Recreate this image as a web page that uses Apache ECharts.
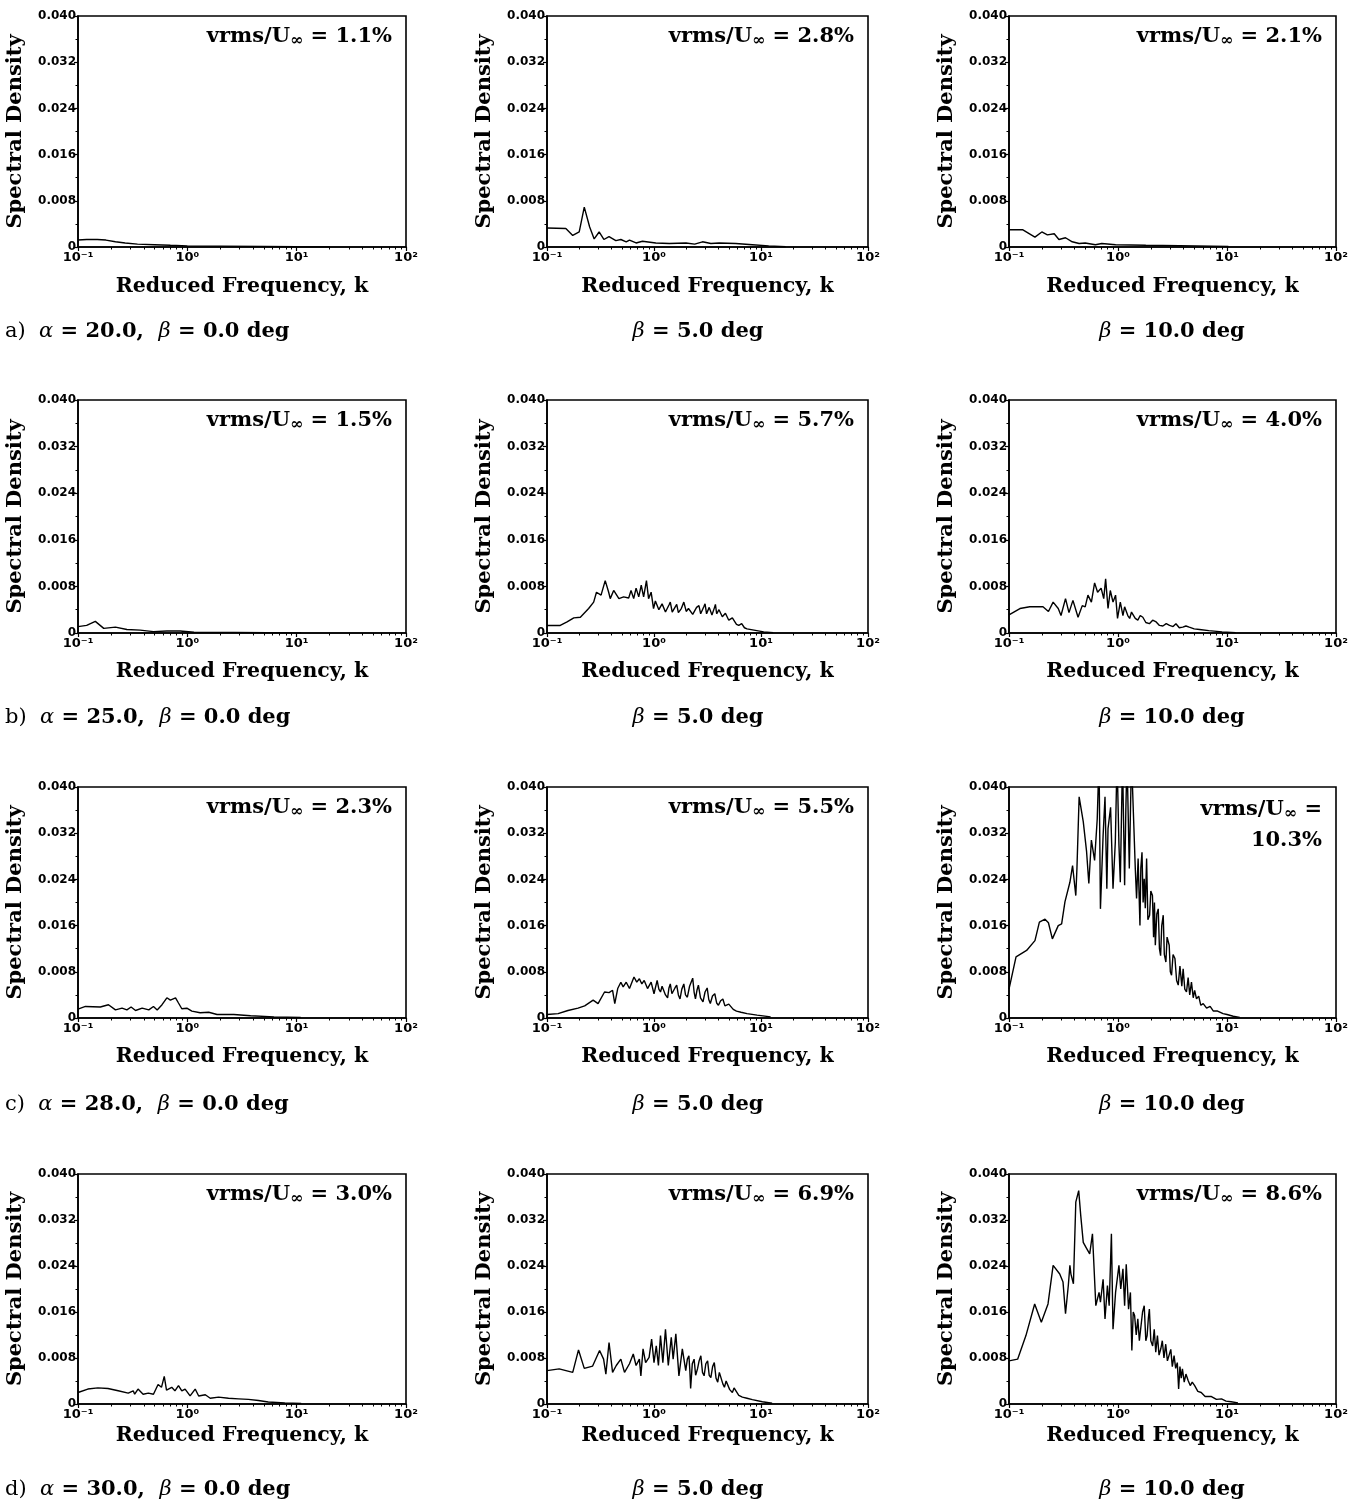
<!DOCTYPE html>
<html><head><meta charset="utf-8">
<script src="https://cdn.jsdelivr.net/npm/echarts@6/dist/echarts.min.js"></script>
<style>html,body{margin:0;padding:0;background:#fff}#c{width:1359px;height:1505px}</style>
</head><body><div id="c"></div><script>
// ---- tick labels ----
const xMajorTicks = [0.1, 1, 10, 100];
const xTickLabels = ['10⁻¹', '10⁰', '10¹', '10²'];
const xMinorTicks = [0.2,0.3,0.4,0.5,0.6,0.7,0.8,0.9,2,3,4,5,6,7,8,9,20,30,40,50,60,70,80,90];
const yTickLabels = ['0', '0.008', '0.016', '0.024', '0.032', '0.040'];

// ---- series: [k, spectral density] ----
const a20b0 = [[0.1,0.0012],[0.12,0.0013],[0.15,0.0013],[0.18,0.0012],[0.22,0.0009],[0.27,0.0007],[0.35,0.0005],[0.5,0.0004],[0.7,0.0003],[1,0.0002],[2,0.00015],[5,0.0001],[10,0.00005],[20,0.00002]];
const a20b5 = [[0.1,0.0033],[0.15,0.0032],[0.174,0.002],[0.2,0.0026],[0.223,0.0069],[0.25,0.0035],[0.276,0.0014],[0.307,0.0026],[0.34,0.0013],[0.38,0.0018],[0.44,0.0011],[0.49,0.0013],[0.55,0.0009],[0.59,0.0012],[0.68,0.0007],[0.78,0.001],[1.04,0.0007],[1.39,0.0006],[1.99,0.0007],[2.4,0.0005],[2.84,0.0009],[3.4,0.0006],[4.06,0.0007],[5.8,0.0006],[8.3,0.0004],[11.8,0.0002],[17,0.00005]];
const a20b10 = [[0.1,0.003],[0.133,0.003],[0.173,0.0017],[0.2,0.0026],[0.225,0.0021],[0.26,0.0023],[0.287,0.0013],[0.33,0.0016],[0.38,0.0009],[0.44,0.0006],[0.5,0.0007],[0.62,0.0004],[0.71,0.0006],[0.95,0.0004],[1.8,0.0003],[5.2,0.0002],[10.3,0.0001]];
const a25b0 = [[0.1,0.0011],[0.12,0.0013],[0.144,0.002],[0.172,0.0008],[0.22,0.001],[0.28,0.0006],[0.37,0.0005],[0.49,0.00023],[0.65,0.00035],[0.86,0.00035],[1.15,0.00012],[2.67,0.0001],[5.4,0.00006],[11,0.00002]];
const a25b5 = [[0.1,0.0013],[0.133,0.0013],[0.154,0.0019],[0.178,0.0026],[0.205,0.0027],[0.245,0.0042],[0.273,0.0053],[0.29,0.007],[0.32,0.0065],[0.35,0.009],[0.377,0.007],[0.39,0.0059],[0.42,0.0073],[0.47,0.0059],[0.52,0.0062],[0.58,0.006],[0.61,0.0073],[0.646,0.0059],[0.68,0.0077],[0.72,0.0062],[0.76,0.0082],[0.8,0.0062],[0.85,0.009],[0.89,0.0059],[0.94,0.007],[0.99,0.0042],[1.03,0.0055],[1.07,0.0053],[1.11,0.004],[1.15,0.0037],[1.19,0.005],[1.23,0.0047],[1.28,0.0036],[1.33,0.0035],[1.38,0.0048],[1.42,0.0053],[1.48,0.0036],[1.53,0.0039],[1.58,0.0045],[1.63,0.0049],[1.69,0.0035],[1.8,0.0042],[1.9,0.0053],[2.0,0.0037],[2.1,0.0042],[2.18,0.0045],[2.3,0.0032],[2.4,0.003],[2.5,0.0044],[2.63,0.0047],[2.73,0.0033],[2.84,0.0031],[2.92,0.0045],[3.0,0.005],[3.1,0.0033],[3.2,0.003],[3.28,0.0044],[3.35,0.0047],[3.48,0.0031],[3.6,0.0029],[3.68,0.0044],[3.75,0.0049],[3.85,0.0033],[3.95,0.003],[4.05,0.004],[4.2,0.0042],[4.35,0.0028],[4.5,0.0025],[4.65,0.0034],[4.84,0.0036],[5.0,0.0022],[5.2,0.0019],[5.4,0.0026],[5.6,0.0027],[5.9,0.0015],[6.2,0.0013],[6.6,0.0016],[7.0,0.0009],[7.4,0.0007],[8.6,0.0005],[10.6,0.0002],[13,0.00006]];
const a25b10 = [[0.1,0.0031],[0.126,0.0042],[0.155,0.0045],[0.205,0.0045],[0.23,0.0037],[0.254,0.0053],[0.283,0.0042],[0.3,0.003],[0.33,0.0059],[0.355,0.0035],[0.386,0.0056],[0.43,0.0027],[0.47,0.0047],[0.5,0.0045],[0.53,0.0065],[0.57,0.0053],[0.61,0.0086],[0.65,0.007],[0.7,0.0077],[0.74,0.0059],[0.77,0.0093],[0.81,0.0042],[0.85,0.0073],[0.9,0.0053],[0.95,0.0065],[0.99,0.0025],[1.05,0.0053],[1.11,0.003],[1.15,0.0045],[1.19,0.0042],[1.23,0.003],[1.28,0.0025],[1.33,0.0036],[1.37,0.0039],[1.44,0.0025],[1.52,0.0022],[1.6,0.003],[1.69,0.0027],[1.8,0.0018],[1.94,0.0016],[2.08,0.0022],[2.24,0.0019],[2.4,0.0013],[2.58,0.0012],[2.77,0.0016],[2.97,0.0013],[3.2,0.0011],[3.4,0.0016],[3.65,0.0009],[3.93,0.001],[4.2,0.0012],[4.5,0.001],[5.0,0.0007],[5.6,0.0006],[6.8,0.0004],[9.0,0.0002],[12,0.00006]];
const a28b0 = [[0.1,0.00155],[0.117,0.002],[0.16,0.0019],[0.19,0.0023],[0.22,0.0014],[0.253,0.0017],[0.28,0.0014],[0.306,0.0019],[0.336,0.0013],[0.386,0.0017],[0.444,0.0014],[0.49,0.002],[0.53,0.0014],[0.587,0.0023],[0.65,0.0035],[0.7,0.0031],[0.78,0.0035],[0.83,0.0026],[0.89,0.0016],[0.99,0.0017],[1.1,0.0012],[1.31,0.0009],[1.57,0.001],[1.87,0.0006],[2.66,0.0006],[3.79,0.0004],[6.2,0.0002],[10.9,0.0001]];
const a28b5 = [[0.1,0.0006],[0.127,0.00075],[0.157,0.0013],[0.195,0.0017],[0.225,0.0021],[0.27,0.0031],[0.3,0.0025],[0.345,0.0045],[0.38,0.0044],[0.41,0.0048],[0.43,0.0025],[0.458,0.0051],[0.49,0.0062],[0.515,0.0054],[0.55,0.0062],[0.59,0.0051],[0.65,0.0071],[0.69,0.0062],[0.73,0.0068],[0.77,0.0059],[0.81,0.0065],[0.87,0.0051],[0.94,0.0062],[1.0,0.0042],[1.07,0.0065],[1.11,0.005],[1.15,0.0045],[1.19,0.0055],[1.23,0.0057],[1.28,0.004],[1.34,0.0035],[1.38,0.0052],[1.42,0.0059],[1.47,0.0042],[1.52,0.004],[1.57,0.0052],[1.63,0.0057],[1.69,0.004],[1.75,0.0033],[1.82,0.005],[1.9,0.0059],[1.97,0.004],[2.05,0.0036],[2.15,0.0055],[2.3,0.0069],[2.37,0.0045],[2.44,0.0033],[2.52,0.0048],[2.6,0.0057],[2.72,0.0035],[2.87,0.0028],[3.0,0.0045],[3.14,0.0052],[3.25,0.0032],[3.36,0.0025],[3.52,0.0038],[3.7,0.0042],[3.85,0.0026],[4.0,0.0022],[4.2,0.003],[4.4,0.0033],[4.6,0.0021],[4.8,0.0019],[5.0,0.0024],[5.2,0.0025],[5.5,0.0015],[5.9,0.0012],[6.5,0.001],[7.4,0.00075],[9.2,0.0005],[12.3,0.0002]];
const a28b10 = [[0.1,0.005],[0.116,0.0106],[0.145,0.0117],[0.173,0.0134],[0.19,0.0166],[0.214,0.0171],[0.23,0.0165],[0.25,0.0137],[0.283,0.016],[0.304,0.0163],[0.326,0.0201],[0.362,0.0235],[0.383,0.0264],[0.41,0.0212],[0.42,0.0259],[0.44,0.0383],[0.48,0.034],[0.515,0.0288],[0.54,0.0233],[0.57,0.0308],[0.61,0.0273],[0.645,0.0345],[0.67,0.045],[0.69,0.0189],[0.73,0.0316],[0.76,0.0383],[0.79,0.0224],[0.81,0.0328],[0.855,0.0365],[0.9,0.0224],[0.945,0.0305],[0.98,0.045],[1.02,0.03],[1.05,0.0235],[1.1,0.045],[1.15,0.023],[1.18,0.036],[1.21,0.045],[1.27,0.0259],[1.33,0.045],[1.4,0.0328],[1.44,0.026],[1.48,0.0207],[1.53,0.0276],[1.59,0.016],[1.62,0.026],[1.66,0.0287],[1.7,0.02],[1.74,0.0241],[1.78,0.019],[1.83,0.0276],[1.88,0.017],[1.95,0.0178],[2.0,0.022],[2.07,0.0212],[2.12,0.014],[2.16,0.02],[2.2,0.0126],[2.27,0.018],[2.34,0.0189],[2.4,0.012],[2.46,0.0108],[2.52,0.016],[2.6,0.0178],[2.66,0.011],[2.75,0.0097],[2.82,0.014],[2.95,0.0126],[3.02,0.008],[3.1,0.0074],[3.2,0.011],[3.33,0.0103],[3.45,0.0065],[3.57,0.0057],[3.7,0.009],[3.85,0.0055],[3.96,0.0085],[4.1,0.005],[4.25,0.0045],[4.4,0.007],[4.55,0.004],[4.72,0.0062],[4.9,0.0035],[5.05,0.0048],[5.25,0.0033],[5.5,0.0038],[5.75,0.0022],[6.05,0.0025],[6.5,0.0017],[7.0,0.002],[7.5,0.0012],[8.2,0.0012],[9.2,0.00075],[10,0.0006],[11.4,0.0003],[13.1,0.0001]];
const a30b0 = [[0.1,0.002],[0.123,0.0026],[0.152,0.0028],[0.188,0.0027],[0.233,0.0023],[0.288,0.0019],[0.32,0.0023],[0.33,0.0017],[0.354,0.0026],[0.394,0.0017],[0.44,0.0019],[0.49,0.0017],[0.54,0.0034],[0.58,0.0029],[0.615,0.0048],[0.645,0.0024],[0.72,0.0029],[0.77,0.0023],[0.83,0.0032],[0.89,0.0023],[0.954,0.0026],[1.06,0.0014],[1.18,0.0026],[1.27,0.0014],[1.46,0.0016],[1.62,0.001],[1.93,0.0012],[2.38,0.001],[2.94,0.0009],[3.62,0.0008],[4.47,0.0006],[5.5,0.00035],[7.8,0.00017],[11,0.0001]];
const a30b5 = [[0.1,0.0058],[0.13,0.0061],[0.174,0.0055],[0.197,0.0094],[0.223,0.0062],[0.267,0.0066],[0.31,0.0093],[0.338,0.0078],[0.355,0.0052],[0.38,0.0107],[0.41,0.0055],[0.444,0.0067],[0.49,0.0078],[0.53,0.0055],[0.59,0.007],[0.64,0.0087],[0.68,0.0067],[0.73,0.0078],[0.754,0.0049],[0.79,0.0096],[0.835,0.0072],[0.9,0.0081],[0.95,0.0113],[1.0,0.0072],[1.05,0.0101],[1.1,0.0067],[1.15,0.0119],[1.21,0.0072],[1.28,0.013],[1.36,0.0067],[1.45,0.0116],[1.51,0.0078],[1.6,0.0122],[1.71,0.0049],[1.84,0.0096],[1.98,0.0058],[2.05,0.0078],[2.12,0.0084],[2.16,0.006],[2.2,0.0027],[2.28,0.007],[2.37,0.0078],[2.45,0.005],[2.55,0.0061],[2.64,0.0075],[2.74,0.0084],[2.84,0.0055],[2.94,0.0049],[3.05,0.007],[3.17,0.0075],[3.28,0.005],[3.4,0.0046],[3.53,0.0065],[3.66,0.0072],[3.8,0.0045],[3.94,0.0038],[4.08,0.0055],[4.23,0.0058],[4.4,0.0035],[4.55,0.0029],[4.72,0.004],[4.9,0.0043],[5.1,0.0025],[5.4,0.002],[5.6,0.0028],[5.8,0.0026],[6.2,0.0015],[6.7,0.0012],[7.4,0.001],[8.3,0.00075],[10.3,0.0004],[12.7,0.00012]];
const a30b10 = [[0.1,0.0075],[0.12,0.0078],[0.143,0.0119],[0.172,0.0174],[0.198,0.0142],[0.228,0.0174],[0.254,0.0241],[0.292,0.0226],[0.313,0.0212],[0.33,0.0157],[0.35,0.0206],[0.362,0.0241],[0.37,0.0226],[0.39,0.0209],[0.41,0.0351],[0.436,0.0371],[0.455,0.0328],[0.48,0.0281],[0.51,0.0272],[0.55,0.0261],[0.583,0.0296],[0.626,0.0171],[0.67,0.0194],[0.69,0.0177],[0.73,0.0217],[0.76,0.0148],[0.8,0.0206],[0.83,0.0171],[0.87,0.0296],[0.9,0.013],[0.95,0.0194],[1.02,0.0241],[1.06,0.02],[1.11,0.0235],[1.15,0.0171],[1.19,0.0243],[1.25,0.0165],[1.3,0.0194],[1.34,0.0093],[1.38,0.016],[1.42,0.0154],[1.47,0.012],[1.52,0.0148],[1.57,0.011],[1.63,0.011],[1.68,0.016],[1.74,0.0171],[1.8,0.011],[1.85,0.0119],[1.9,0.015],[1.94,0.0165],[2.0,0.011],[2.08,0.0101],[2.15,0.013],[2.22,0.009],[2.3,0.0119],[2.38,0.0085],[2.47,0.0096],[2.55,0.011],[2.64,0.008],[2.74,0.0104],[2.84,0.0075],[2.94,0.0078],[3.05,0.0095],[3.15,0.0065],[3.27,0.0084],[3.38,0.0062],[3.5,0.0072],[3.6,0.0026],[3.7,0.0065],[3.8,0.0045],[3.9,0.0061],[4.05,0.0038],[4.2,0.0052],[4.4,0.0041],[4.6,0.0032],[4.8,0.0038],[5.05,0.0032],[5.4,0.0022],[5.8,0.002],[6.3,0.0013],[7.2,0.0013],[8.0,0.0008],[8.9,0.0009],[9.8,0.0005],[10.9,0.0004],[12.6,0.0002]];

const panelSeries = [a20b0, a20b5, a20b10, a25b0, a25b5, a25b10, a28b0, a28b5, a28b10, a30b0, a30b5, a30b10];
const vrmsValues = ['1.1%', '2.8%', '2.1%', '1.5%', '5.7%', '4.0%', '2.3%', '5.5%', '10.3%', '3.0%', '6.9%', '8.6%'];
const rowLetters = ['a)', 'b)', 'c)', 'd)'];
const alphaValues = ['20.0', '25.0', '28.0', '30.0'];
const betaValues = ['0.0', '5.0', '10.0'];

// ---- layout ----
const colLeft = [78, 547, 1009];
const colWidth = [328, 321, 327];
const rowTop = [16, 400, 787, 1174];
const rowHeight = [231, 233, 231, 230];
const xNameGap = [29, 28, 28, 21];
const captionY = [332, 718, 1105, 1490];
const captionX = [5, 698, 1172];

const SERIF = 'DejaVu Serif';
const SANS = 'DejaVu Sans';

const grids = [], xAxes = [], yAxes = [], series = [], graphics = [];
for (let r = 0; r < 4; r++) {
  for (let c = 0; c < 3; c++) {
    const i = r * 3 + c;
    grids.push({left: colLeft[c], top: rowTop[r], width: colWidth[c], height: rowHeight[r],
      show: true, borderColor: '#000', borderWidth: 1.6, backgroundColor: 'transparent'});
    xAxes.push({type: 'log', logBase: 10, gridIndex: i, min: 0.1, max: 100,
      name: 'Reduced Frequency, k', nameLocation: 'middle', nameGap: xNameGap[r],
      nameTextStyle: {fontFamily: SERIF, fontWeight: 'bold', fontSize: 20.5, color: '#000'},
      axisLine: {show: true, lineStyle: {color: '#000', width: 1.6}},
      axisTick: {show: true, inside: false, length: 4, lineStyle: {color: '#000', width: 1.2}},
      axisLabel: {show: true, color: '#000', fontFamily: SANS, fontWeight: 'bold', fontSize: 13, margin: 4,
        formatter: v => { const j = xMajorTicks.findIndex(t => Math.abs(Math.log10(t) - Math.log10(v)) < 1e-6); return j >= 0 ? xTickLabels[j] : ''; }},
      splitLine: {show: false}, minorTick: {show: false}});
    xAxes.push({type: 'log', logBase: 10, gridIndex: i, min: 0.1, max: 100, position: 'bottom',
      axisLine: {show: false}, axisLabel: {show: false}, splitLine: {show: false},
      axisTick: {show: true, customValues: xMinorTicks, length: 2.5, lineStyle: {color: '#000', width: 1}}});
    yAxes.push({type: 'value', gridIndex: i, min: 0, max: 0.04, interval: 0.008,
      name: 'Spectral Density', nameLocation: 'middle', nameGap: 52, nameRotate: 90,
      nameTextStyle: {fontFamily: SERIF, fontWeight: 'bold', fontSize: 21, color: '#000'},
      axisLine: {show: true, lineStyle: {color: '#000', width: 1.6}},
      axisTick: {show: true, length: 4, lineStyle: {color: '#000', width: 1.2}},
      minorTick: {show: true, splitNumber: 2, length: 2.5, lineStyle: {color: '#000', width: 1}},
      axisLabel: {color: '#000', fontFamily: SANS, fontWeight: 'bold', fontSize: 12, margin: 2,
        formatter: v => yTickLabels[Math.round(v / 0.008)]},
      splitLine: {show: false}});
    series.push({type: 'line', xAxisIndex: 2 * i, yAxisIndex: i, data: panelSeries[i],
      showSymbol: false, symbol: 'none', clip: true, animation: false,
      lineStyle: {color: '#000', width: 1.4}});
    // vrms annotation
    const rightX = colLeft[c] + colWidth[c] - 14;
    const rich = {n: {fontFamily: SERIF, fontWeight: 'bold', fontSize: 21, color: '#000'},
                  s: {fontFamily: SERIF, fontWeight: 'bold', fontSize: 16, color: '#000', padding: [8, 0, 0, 0]}};
    if (vrmsValues[i].length > 4) {
      graphics.push({type: 'text', x: rightX, y: rowTop[r] + 23, z: 10,
        style: {text: '{n|vrms/U}{s|∞}{n| =}', rich, align: 'right', verticalAlign: 'middle'}});
      graphics.push({type: 'text', x: rightX, y: rowTop[r] + 54, z: 10,
        style: {text: '{n|' + vrmsValues[i] + '}', rich, align: 'right', verticalAlign: 'middle'}});
    } else {
      graphics.push({type: 'text', x: rightX, y: rowTop[r] + 21, z: 10,
        style: {text: '{n|vrms/U}{s|∞}{n| = ' + vrmsValues[i] + '}', rich, align: 'right', verticalAlign: 'middle'}});
    }
    // caption
    const crich = {r: {fontFamily: SERIF, fontSize: 21, color: '#000'},
                   i: {fontFamily: SERIF, fontStyle: 'italic', fontSize: 21, color: '#000'},
                   b: {fontFamily: SERIF, fontWeight: 'bold', fontSize: 21, color: '#000'}};
    let ctext;
    if (c === 0) ctext = '{r|' + rowLetters[r] + '  }{i|α}{b| = ' + alphaValues[r] + ',  }{i|β}{b| = ' + betaValues[c] + ' deg}';
    else ctext = '{i|β}{b| = ' + betaValues[c] + ' deg}';
    graphics.push({type: 'text', x: captionX[c], y: captionY[r], z: 10,
      style: {text: ctext, rich: crich, align: c === 0 ? 'left' : 'center', verticalAlign: 'middle'}});
  }
}

const chart = echarts.init(document.getElementById('c'), null, {renderer: 'canvas'});
chart.setOption({backgroundColor: '#fff', animation: false, grid: grids, xAxis: xAxes, yAxis: yAxes, series, graphic: graphics});
</script></body></html>
